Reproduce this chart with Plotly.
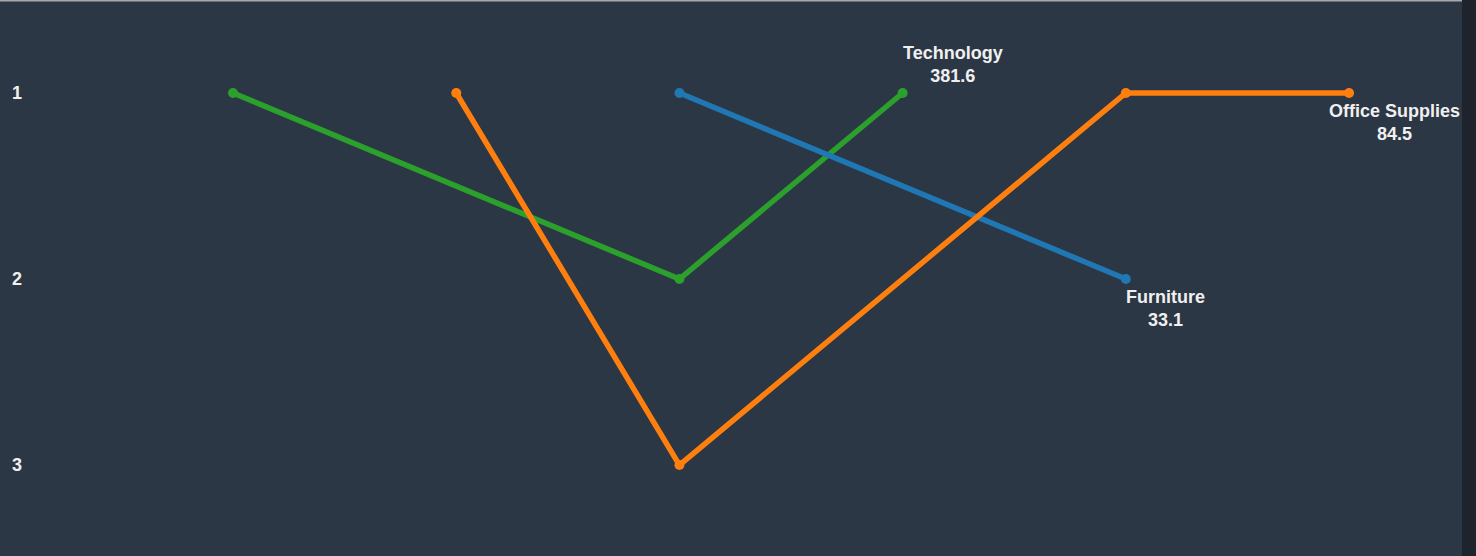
import plotly.graph_objects as go

# ---- data ----
periods = ["P1", "P2", "P3", "P4", "P5", "P6"]
categories = ["Technology", "Furniture", "Office Supplies"]
rank_technology = [1, None, 2, 1, None, None]
rank_furniture = [None, None, 1, None, 2, None]
rank_office = [None, 1, 3, None, 1, 1]
final_values = [381.6, 33.1, 84.5]
rank_ticks = [1, 2, 3]

ranks = [rank_technology, rank_furniture, rank_office]
colors = ["#2ca02c", "#1f77b4", "#ff7f0e"]
# label placement (style): (yanchor, yshift, xshift)
label_style = {
    "Technology": ("bottom", 5, -2),
    "Furniture": ("top", -6, -2),
    "Office Supplies": ("top", -6, -22),
}

BG = "#2c3745"
STRIP = "#1f232b"
FONT = "Liberation Sans, Arial, sans-serif"

W, H = 1476, 556
R_MARGIN = 14

fig = go.Figure()
annotations = []
for name, r, c, v in zip(categories, ranks, colors, final_values):
    xs = [p for p, val in zip(periods, r) if val is not None]
    ys = [val for val in r if val is not None]
    fig.add_trace(go.Scatter(
        x=xs, y=ys, mode="lines+markers", name=name,
        line=dict(color=c, width=5.5), marker=dict(color=c, size=10),
        connectgaps=True, showlegend=False, hoverinfo="skip",
    ))
    ya, ysh, xsh = label_style[name]
    annotations.append(dict(
        x=xs[-1], y=ys[-1], xref="x", yref="y",
        text=f"<b>{name}<br>{v}</b>", showarrow=False,
        xanchor="left", yanchor=ya, align="center",
        yshift=ysh, xshift=xsh,
        font=dict(family=FONT, size=18, color="#f0f0f0"),
    ))

fig.update_layout(
    width=W, height=H,
    margin=dict(l=0, r=R_MARGIN, t=0, b=0, pad=0),
    paper_bgcolor=BG, plot_bgcolor=BG,
    annotations=annotations,
    xaxis=dict(type="category", categoryarray=periods, range=[-1.044, 5.506],
               showticklabels=False, showgrid=False, zeroline=False, showline=False),
    yaxis=dict(range=[3.489, 0.5], tickvals=rank_ticks,
               ticktext=[f"<b>{t}</b>" for t in rank_ticks],
               ticklabelposition="inside", ticks="", ticklabelstandoff=9,
               showgrid=False, zeroline=False, showline=False,
               tickfont=dict(family=FONT, size=18, color="#f0f0f0")),
    shapes=[
        dict(type="rect", xref="paper", yref="paper", x0=1, x1=1 + R_MARGIN / (W - R_MARGIN),
             y0=0, y1=1, fillcolor=STRIP, line=dict(width=0), layer="above"),
        dict(type="line", xref="paper", yref="paper", x0=0, x1=1, y0=1, y1=1,
             line=dict(color="#a8a8a8", width=3), layer="above"),
    ],
)

fig.write_html("out.html", config={"displayModeBar": False},
               post_script="document.body.style.margin='0';document.body.style.background='%s';" % STRIP)
